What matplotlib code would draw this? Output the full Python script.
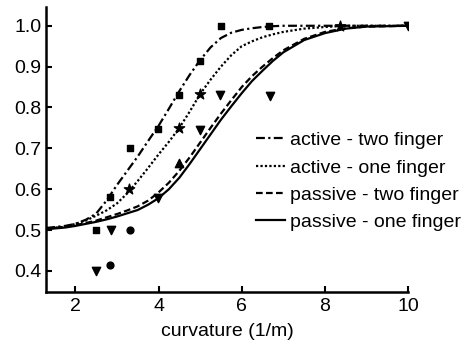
import matplotlib
matplotlib.use("Agg")
import matplotlib.pyplot as plt

# ---- data ----
curve_x = [1.3, 1.75, 2.0, 2.25, 2.5, 2.75, 3.0, 3.25, 3.5, 3.75, 4.0, 4.25, 4.5, 4.75,
           5.0, 5.25, 5.5, 5.75, 6.0, 6.25, 6.5, 6.75, 7.0, 7.5, 8.0, 8.5, 9.0, 10.0]
active_two = [0.505, 0.51, 0.515, 0.525, 0.54, 0.572, 0.61, 0.645, 0.68, 0.718, 0.755, 0.797,
              0.84, 0.88, 0.916, 0.947, 0.97, 0.983, 0.99, 0.994, 0.997, 0.999, 1.0, 1.0,
              1.0, 1.0, 1.0, 1.0]
active_one = [0.503, 0.508, 0.515, 0.523, 0.535, 0.548, 0.565, 0.59, 0.62, 0.652, 0.685, 0.716,
              0.75, 0.79, 0.833, 0.868, 0.90, 0.928, 0.95, 0.962, 0.972, 0.979, 0.985, 0.993,
              0.997, 1.0, 1.0, 1.0]
passive_two = [0.503, 0.508, 0.512, 0.517, 0.523, 0.531, 0.539, 0.548, 0.558, 0.572, 0.592, 0.616,
               0.645, 0.678, 0.714, 0.75, 0.785, 0.818, 0.85, 0.877, 0.90, 0.921, 0.94, 0.968,
               0.985, 0.994, 0.998, 1.0]
passive_one = [0.502, 0.506, 0.51, 0.515, 0.52, 0.526, 0.533, 0.541, 0.549, 0.562, 0.578, 0.60,
               0.628, 0.662, 0.698, 0.734, 0.77, 0.803, 0.835, 0.865, 0.89, 0.914, 0.935, 0.965,
               0.982, 0.993, 0.998, 1.0]

sq_x = [2.5, 2.83, 3.31, 3.98, 4.49, 5.0, 5.5, 6.66]
sq_y = [0.50, 0.58, 0.70, 0.747, 0.83, 0.914, 1.0, 1.0]
star_x = [3.30, 4.49, 5.0, 8.35]
star_y = [0.60, 0.75, 0.833, 1.0]
tri_up_x = [4.49]
tri_up_y = [0.664]
tri_dn_x = [2.5, 2.85, 3.99, 5.0, 5.48, 6.68, 10.0]
tri_dn_y = [0.40, 0.50, 0.578, 0.745, 0.83, 0.828, 1.0]
circ_x = [2.83, 3.31]
circ_y = [0.415, 0.50]

labels = ["active - two finger", "active - one finger",
          "passive - two finger", "passive - one finger"]
xticks = [2, 4, 6, 8, 10]
yticks = [0.4, 0.5, 0.6, 0.7, 0.8, 0.9, 1.0]

plt.rcParams['font.family'] = ['Liberation Sans', 'DejaVu Sans']
fs = 14

fig = plt.figure(figsize=(4.67, 3.49), dpi=100)
ax = fig.add_axes([0.098, 0.163, 0.776, 0.817])

lw = 1.6
h1, = ax.plot(curve_x, active_two, color='black', lw=lw, linestyle=(0, (4, 1.5, 1, 1.5)))
h2, = ax.plot(curve_x, active_one, color='black', lw=lw, linestyle=(0, (1, 1)))
h3, = ax.plot(curve_x, passive_two, color='black', lw=lw, linestyle=(0, (3, 1.5)))
h4, = ax.plot(curve_x, passive_one, color='black', lw=lw, linestyle='-')

ax.scatter(sq_x, sq_y, marker='s', s=22, color='black', zorder=3)
ax.scatter(star_x, star_y, marker='*', s=60, color='black', zorder=3)
ax.scatter(tri_up_x, tri_up_y, marker='^', s=36, color='black', zorder=3)
ax.scatter(tri_dn_x, tri_dn_y, marker='v', s=36, color='black', zorder=3)
ax.scatter(circ_x, circ_y, marker='o', s=24, color='black', zorder=3)

ax.set_xlim(1.29, 10)
ax.set_ylim(0.348, 1.046)
ax.set_xticks(xticks)
ax.set_yticks(yticks)
ax.set_yticklabels([f"{v:.1f}" for v in yticks])
ax.tick_params(direction='in', length=4, width=1.5, labelsize=fs)
ax.tick_params(axis='y', pad=3)
ax.tick_params(axis='x', pad=4)
for s in ['top', 'right']:
    ax.spines[s].set_visible(False)
for s in ['left', 'bottom']:
    ax.spines[s].set_linewidth(1.8)
ax.spines['bottom'].set_bounds(1.29, 10)
ax.set_xlabel("curvature (1/m)", fontsize=fs, labelpad=6)

fig.legend([h1, h2, h3, h4], labels, loc='center left',
           bbox_to_anchor=(0.548, 0.48), frameon=False, fontsize=fs,
           handlelength=1.5, handletextpad=0.25, labelspacing=0.5,
           borderpad=0, borderaxespad=0)

fig.savefig("out.png", dpi=100, facecolor='white')
